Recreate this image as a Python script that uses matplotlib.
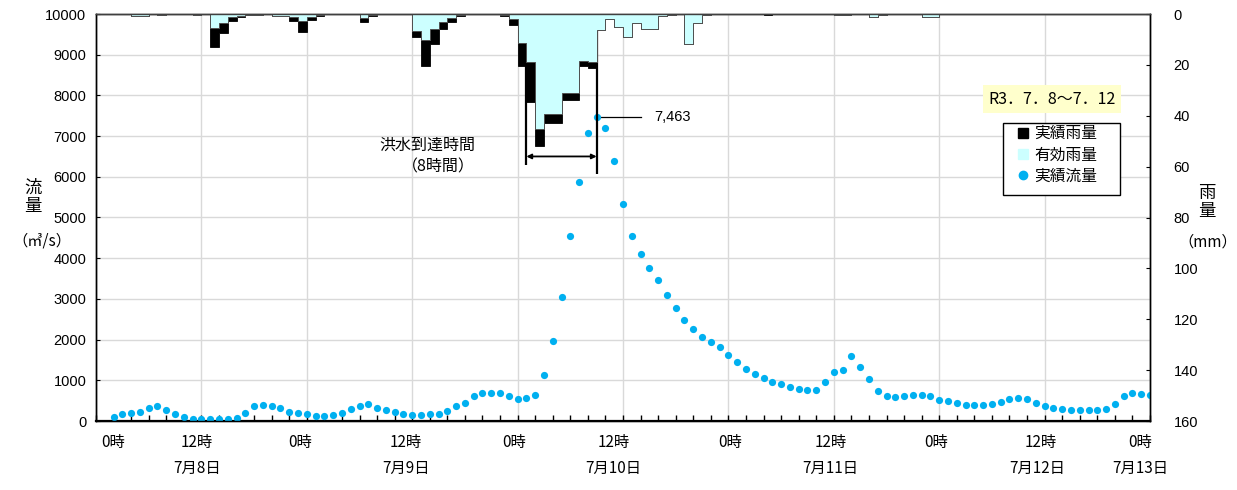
import numpy as np
import matplotlib
matplotlib.use("Agg")
import matplotlib.pyplot as plt
from matplotlib.lines import Line2D
from matplotlib.patches import Rectangle
import matplotlib.transforms as mtransforms

plt.rcParams['font.family'] = ['Noto Sans CJK JP', 'DejaVu Sans']

# ---- data -------------------------------------------------------------
# hourly discharge (m3/s), hours counted from 7/8 0:00, starting at hour 2
flow_start_hour = 2
flow = [100, 165, 205, 230, 310, 370, 260, 180, 105, 60,
        40, 40, 40, 40, 80, 195, 370, 385, 360, 320,
        230, 190, 165, 130, 130, 140, 205, 295, 370, 420,
        330, 260, 210, 165, 140, 150, 163, 163, 245, 360,
        440, 610, 680, 700, 680, 610, 545, 565, 645, 1135,
        1975, 3035, 4555, 5860, 7080, 7463, 7210, 6400, 5340, 4555,
        4100, 3755, 3460, 3095, 2767, 2480, 2250, 2075, 1951, 1812,
        1624, 1453, 1282, 1167, 1045, 963, 906, 833, 776, 767,
        767, 955, 1200, 1265, 1592, 1339, 1037, 743, 620, 588,
        620, 629, 629, 612, 522, 482, 433, 400, 392, 400,
        416, 462, 536, 575, 542, 442, 375, 317, 300, 275,
        267, 258, 258, 283, 417, 625, 700, 658, 633]

# hourly rainfall (mm), one value per hour from 7/8 0:00
rain_observed = [
    0, 0, 0, 0, 0.6, 0.6, 0, 0.4, 0, 0, 0, 0.5,
    0, 13.1, 7.6, 2.8, 1.3, 0.5, 0.3, 0, 0.7, 0.7, 2.6, 7.0,
    2.4, 0.8, 0, 0, 0, 0, 3.3, 0.8, 0, 0, 0, 0,
    9.2, 20.4, 11.8, 5.9, 3.3, 0.8, 0, 0, 0, 0, 0.7, 4.3,
    20.4, 34.7, 51.8, 43.0, 43.0, 34.0, 34.0, 20.3, 21.1, 6.3, 2.1, 5.0,
    8.9, 3.7, 6.0, 6.0, 0.8, 0.3, 0, 11.9, 3.4, 0.3, 0, 0,
    0, 0, 0, 0, 0.4, 0, 0, 0, 0, 0, 0, 0,
    0.3, 0.3, 0, 0, 1.3, 0.5, 0, 0, 0, 0, 1.3, 1.3,
    0, 0, 0, 0, 0, 0, 0, 0, 0, 0, 0, 0,
    0, 0, 0, 0, 0, 0, 0, 0, 0, 0, 0, 0]
rain_effective = [
    0, 0, 0, 0, 0.6, 0.6, 0, 0.4, 0, 0, 0, 0.3,
    0, 5.6, 3.7, 1.3, 0.6, 0.3, 0.2, 0, 0.7, 0.7, 1.1, 2.6,
    1.1, 0.4, 0, 0, 0, 0, 1.5, 0.5, 0, 0, 0, 0,
    6.5, 10.2, 5.9, 3.0, 1.5, 0.5, 0, 0, 0, 0, 0.5, 2.0,
    11.5, 18.7, 45.3, 39.4, 39.4, 31.2, 31.2, 18.3, 19.0, 6.3, 2.1, 5.0,
    8.9, 3.7, 6.0, 6.0, 0.8, 0.3, 0, 11.9, 3.4, 0.3, 0, 0,
    0, 0, 0, 0, 0, 0, 0, 0, 0, 0, 0, 0,
    0.3, 0.3, 0, 0, 1.3, 0.5, 0, 0, 0, 0, 1.3, 1.3,
    0, 0, 0, 0, 0, 0, 0, 0, 0, 0, 0, 0,
    0, 0, 0, 0, 0, 0, 0, 0, 0, 0, 0, 0]

peak_hour = 57
peak_flow = 7463
arrival_start, arrival_end = 49, 57

hour_labels = ['0時', '12時', '0時', '12時', '0時', '12時',
               '0時', '12時', '0時', '12時', '0時']
hour_label_pos = [1.9, 11.5, 23.2, 35.3, 47.6, 58.9, 72.2, 83.6, 95.7, 107.5, 118.9]
date_labels = ['7月8日', '7月9日', '7月10日', '7月11日', '7月12日', '7月13日']
date_label_pos = [11.5, 35.3, 58.9, 83.6, 107.2, 118.9]

# ---- layout ------------------------------------------------------------
W, H = 1237, 490
fig = plt.figure(figsize=(W / 100, H / 100), dpi=100)
L, R, T, B = 96, 1150, 14, 421
ax = fig.add_axes([L / W, 1 - B / H, (R - L) / W, (B - T) / H])
ax2 = ax.twinx()

def fx(px):
    return px / W

def fy(py):
    return 1 - py / H

FLOW_C = '#00B0F0'
EFF_C = '#CCFFFF'
GRID_C = '#D9D9D9'
FS = 10.5
FSJ = 11

# ---- discharge ---------------------------------------------------------
flow_hours = np.arange(flow_start_hour, flow_start_hour + len(flow))
ax.plot(flow_hours, flow, 'o', color=FLOW_C, ms=5.2, mec='none', zorder=3)
ax.set_xlim(0, 120)
ax.set_ylim(0, 10000)
ax.set_yticks(np.arange(0, 10001, 1000))
ax.set_xticks(np.arange(0, 121, 12))
ax.set_xticks(np.arange(0, 121, 2), minor=True)
ax.set_xticklabels([])
ax.grid(axis='y', color=GRID_C, lw=1)
ax.grid(axis='x', which='major', color=GRID_C, lw=1)
ax.set_axisbelow(True)
ax.tick_params(axis='y', direction='in', length=3, labelsize=FS, pad=7)
ax.tick_params(axis='x', which='both', direction='in', length=4, width=1)
for lab in ax.get_yticklabels():
    lab.set_family(['Liberation Sans', 'DejaVu Sans'])

# ---- rainfall (hanging from the top) -----------------------------------
edges = np.arange(len(rain_observed) + 1)
ax2.stairs(rain_observed, edges, baseline=0, fill=True,
           facecolor='black', edgecolor='black', lw=0.6)
ax2.stairs(rain_effective, edges, baseline=0, fill=True,
           facecolor=EFF_C, edgecolor='#505050', lw=0.7)
ax2.set_ylim(160, 0)
ax2.set_yticks(np.arange(0, 161, 20))
ax2.tick_params(axis='y', direction='in', length=3, labelsize=FS, pad=17)
for lab in ax2.get_yticklabels():
    lab.set_family(['Liberation Sans', 'DejaVu Sans'])

for a in (ax, ax2):
    for s in a.spines.values():
        s.set_color('black')
        s.set_linewidth(1)
ax.spines['bottom'].set_linewidth(1.6)
ax2.spines['top'].set_color('#404040')

# ---- flood arrival time annotation -------------------------------------
ax.plot([arrival_start, arrival_start], [6290, 10000], color='black', lw=1.6,
        zorder=4, solid_capstyle='butt')
ax.plot([arrival_end, arrival_end], [6070, 10000], color='black', lw=1.6,
        zorder=4, solid_capstyle='butt')
ax.annotate('', xy=(arrival_start, 6500), xytext=(arrival_end, 6500),
            arrowprops=dict(arrowstyle='<|-|>', color='black', lw=1.3,
                            mutation_scale=7, shrinkA=0, shrinkB=0), zorder=4)
fig.text(fx(475), fy(145), '洪水到達時間', ha='right', va='center', fontsize=11.5)
fig.text(fx(475), fy(167), '（8時間）', ha='right', va='center', fontsize=11.5)

# peak label with leader line
ax.plot([peak_hour, peak_hour + 5], [peak_flow, peak_flow], color='black',
        lw=0.9, zorder=2)
ax.text(peak_hour + 6.6, peak_flow, f'{peak_flow:,}', ha='left', va='center',
        fontsize=FS, family=['Liberation Sans', 'DejaVu Sans'])

# ---- x labels ------------------------------------------------------------
trans = mtransforms.blended_transform_factory(ax.transData, fig.transFigure)
for pos, lab in zip(hour_label_pos, hour_labels):
    ax.text(pos, fy(443), lab, transform=trans, ha='center', va='center',
            fontsize=FSJ)
for pos, lab in zip(date_label_pos, date_labels):
    ax.text(pos, fy(468), lab, transform=trans, ha='center', va='center',
            fontsize=FSJ)

# ---- axis titles -------------------------------------------------------
fig.text(fx(33), fy(197), '流\n量', ha='center', va='center', fontsize=12.5,
         linespacing=1.05)
fig.text(fx(42), fy(241), '（㎥/s）', ha='center', va='center', fontsize=FSJ)
fig.text(fx(1207), fy(202), '雨\n量', ha='center', va='center', fontsize=12.5,
         linespacing=1.05)
fig.text(fx(1208), fy(242), '（mm）', ha='center', va='center', fontsize=FSJ)

# ---- period box and legend ---------------------------------------------
fig.text(fx(1052), fy(99), 'R3．7．8～7．12', ha='center', va='center',
         fontsize=11.5,
         bbox=dict(boxstyle='square,pad=0.35', facecolor='#FFFFCC',
                   edgecolor='none'))

# legend frame drawn separately so the padding can be wider than tall
fig.patches.append(Rectangle((fx(1003), fy(195)), fx(1120) - fx(1003),
                             fy(123) - fy(195), transform=fig.transFigure,
                             facecolor='white', edgecolor='black', lw=1,
                             zorder=5))
handles = [
    Line2D([], [], ls='none', marker='s', color='black', ms=7.5),
    Line2D([], [], ls='none', marker='s', color=EFF_C, ms=7.5),
    Line2D([], [], ls='none', marker='o', color=FLOW_C, ms=6),
]
leg = fig.legend(handles, ['実績雨量', '有効雨量', '実績流量'],
                 loc='upper left', bbox_to_anchor=(fx(1017), fy(125)),
                 bbox_transform=fig.transFigure, fontsize=11.3,
                 frameon=False, handlelength=0.8, handletextpad=0.3,
                 borderpad=0.0, borderaxespad=0, labelspacing=0.28)
leg.set_zorder(6)

fig.savefig('out.png', dpi=100)
